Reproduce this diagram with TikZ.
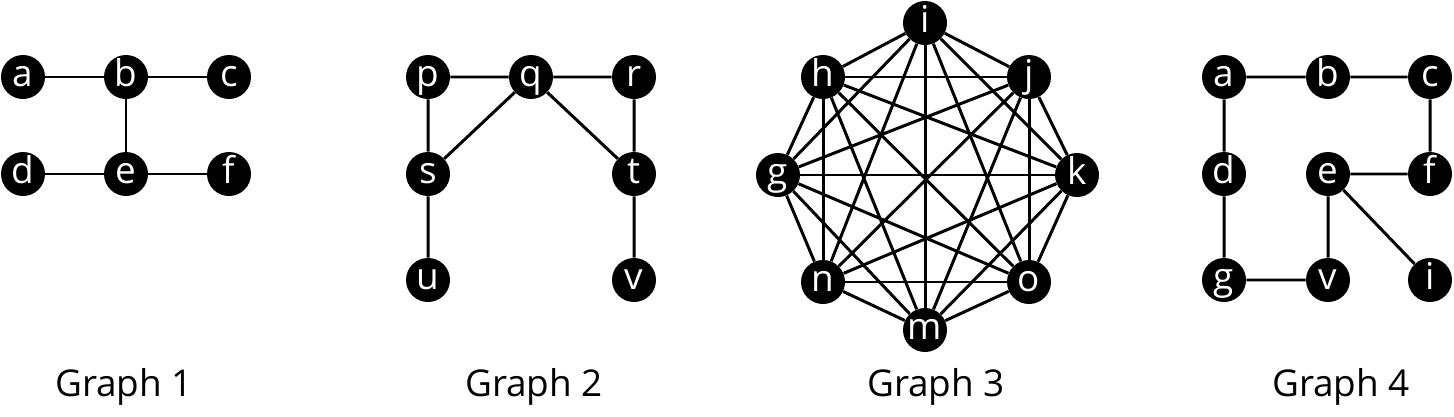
\documentclass[tikz,border=0pt]{standalone}
\usepackage{fontspec}
\setmainfont{Open Sans}
\begin{document}
\begin{tikzpicture}[x=0.2mm,y=-0.2mm,
  vtx/.style={circle,fill=black,text=white,inner sep=0pt,minimum size=8.8mm,
    text height=11.2pt,text depth=0pt,font=\fontsize{21}{22}\selectfont},
  edge/.style={line width=1.7pt,black},
  gcap/.style={anchor=base,font=\fontsize{21}{24}\selectfont}]
\useasboundingbox (0,0) rectangle (1454,416);
% Graph 1
\node[vtx] (a1) at (23,77) {a};
\node[vtx] (b1) at (126,77) {b};
\node[vtx] (c1) at (229,77) {c};
\node[vtx] (d1) at (23,174) {d};
\node[vtx] (e1) at (126,174) {e};
\node[vtx] (f1) at (229,174) {f};
\draw[edge] (a1) -- (b1) (b1) -- (c1) (b1) -- (e1) (d1) -- (e1) (e1) -- (f1);
\node[gcap] (l1) at (124,396) {Graph 1};
% Graph 2
\node[vtx] (p) at (428,77) {p};
\node[vtx] (q) at (531,77) {q};
\node[vtx] (r) at (634,77) {r};
\node[vtx] (s) at (428,174) {s};
\node[vtx] (t) at (634,174) {t};
\node[vtx] (u) at (428,280) {u};
\node[vtx] (v) at (634,280) {v};
\draw[edge] (p) -- (q) (q) -- (r) (p) -- (s) (q) -- (s) (q) -- (t) (r) -- (t) (s) -- (u) (t) -- (v);
\node[gcap] (l2) at (534,396) {Graph 2};
% Graph 3
\node[vtx] (i3) at (925,23) {i};
\node[vtx] (j3) at (1029,77) {j};
\node[vtx] (k3) at (1077,175) {k};
\node[vtx] (o3) at (1029,282) {o};
\node[vtx] (m3) at (925,330) {m};
\node[vtx] (n3) at (823,282) {n};
\node[vtx] (g3) at (778,175) {g};
\node[vtx] (h3) at (823,77) {h};
\foreach \x [count=\xi] in {i3,j3,k3,o3,m3,n3,g3,h3}{
  \foreach \y [count=\yi] in {i3,j3,k3,o3,m3,n3,g3,h3}{
    \ifnum\xi<\yi \draw[edge] (\x) -- (\y); \fi
  }
}
\node[gcap] (l3) at (936,396) {Graph 3};
% Graph 4
\node[vtx] (a4) at (1224,77) {a};
\node[vtx] (b4) at (1328,77) {b};
\node[vtx] (c4) at (1430,77) {c};
\node[vtx] (d4) at (1224,174) {d};
\node[vtx] (e4) at (1328,174) {e};
\node[vtx] (f4) at (1430,174) {f};
\node[vtx] (g4) at (1224,280) {g};
\node[vtx] (v4) at (1328,280) {v};
\node[vtx] (i4) at (1430,280) {i};
\draw[edge] (a4) -- (b4) (b4) -- (c4) (c4) -- (f4) (e4) -- (f4) (a4) -- (d4) (d4) -- (g4) (g4) -- (v4) (e4) -- (v4) (e4) -- (i4);
\node[gcap] (l4) at (1341,396) {Graph 4};
\end{tikzpicture}
\end{document}
